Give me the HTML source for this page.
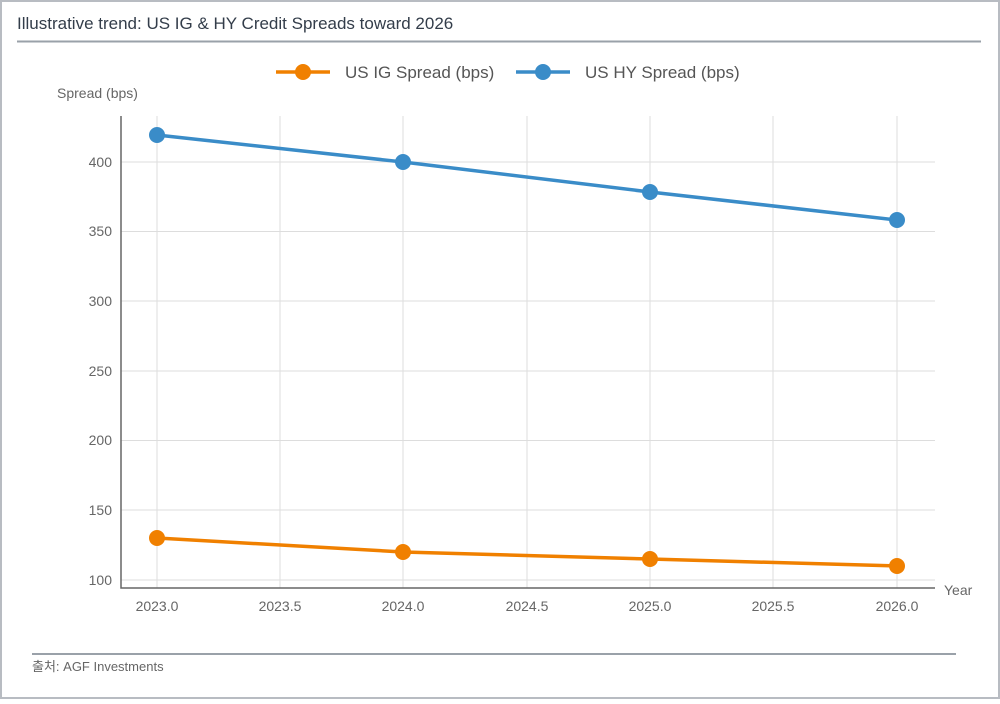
<!DOCTYPE html>
<html><head><meta charset="utf-8"><style>
html,body{margin:0;padding:0;background:#fff;}
body{width:1000px;height:699px;overflow:hidden;}
</style></head><body>
<svg width="1000" height="699" xmlns="http://www.w3.org/2000/svg" font-family="Liberation Sans, 'Noto Sans CJK KR', sans-serif">
<rect x="1" y="1" width="998" height="697" fill="#fff" stroke="#b8bcc2" stroke-width="2"/>
<text x="17" y="29" font-size="17" fill="#333d4a">Illustrative trend: US IG &amp; HY Credit Spreads toward 2026</text>
<line x1="17" y1="41.5" x2="981" y2="41.5" stroke="#9aa1a9" stroke-width="2"/>
<g stroke="#dddddd" stroke-width="1">
<line x1="121" y1="162" x2="935" y2="162"/><line x1="121" y1="231.5" x2="935" y2="231.5"/>
<line x1="121" y1="301" x2="935" y2="301"/><line x1="121" y1="371" x2="935" y2="371"/>
<line x1="121" y1="440.5" x2="935" y2="440.5"/><line x1="121" y1="510" x2="935" y2="510"/>
<line x1="121" y1="580" x2="935" y2="580"/>
<line x1="157" y1="116" x2="157" y2="588"/><line x1="280" y1="116" x2="280" y2="588"/>
<line x1="403" y1="116" x2="403" y2="588"/><line x1="527" y1="116" x2="527" y2="588"/>
<line x1="650" y1="116" x2="650" y2="588"/><line x1="773" y1="116" x2="773" y2="588"/>
<line x1="897" y1="116" x2="897" y2="588"/>
</g>
<path d="M121 116 V588 H935" fill="none" stroke="#666" stroke-width="1.5"/>
<g font-size="14" fill="#666" text-anchor="end">
<text x="112" y="167">400</text><text x="112" y="236">350</text><text x="112" y="306">300</text>
<text x="112" y="376">250</text><text x="112" y="445">200</text><text x="112" y="515">150</text><text x="112" y="585">100</text>
</g>
<g font-size="14" fill="#666" text-anchor="middle">
<text x="157" y="611">2023.0</text><text x="280" y="611">2023.5</text><text x="403" y="611">2024.0</text>
<text x="527" y="611">2024.5</text><text x="650" y="611">2025.0</text><text x="773" y="611">2025.5</text><text x="897" y="611">2026.0</text>
</g>
<text x="57" y="98" font-size="14" fill="#666">Spread (bps)</text>
<text x="944" y="595" font-size="14" fill="#666">Year</text>
<polyline points="157,135 403,162 650,192 897,220" fill="none" stroke="#3a8cc8" stroke-width="3.5"/>
<g fill="#3a8cc8"><circle cx="157" cy="135" r="8"/><circle cx="403" cy="162" r="8"/><circle cx="650" cy="192" r="8"/><circle cx="897" cy="220" r="8"/></g>
<polyline points="157,538 403,552 650,559 897,566" fill="none" stroke="#f08000" stroke-width="3.5"/>
<g fill="#f08000"><circle cx="157" cy="538" r="8"/><circle cx="403" cy="552" r="8"/><circle cx="650" cy="559" r="8"/><circle cx="897" cy="566" r="8"/></g>
<line x1="276" y1="72" x2="330" y2="72" stroke="#f08000" stroke-width="3.5"/><circle cx="303" cy="72" r="8" fill="#f08000"/>
<text x="345" y="78" font-size="17" fill="#555">US IG Spread (bps)</text>
<line x1="516" y1="72" x2="570" y2="72" stroke="#3a8cc8" stroke-width="3.5"/><circle cx="543" cy="72" r="8" fill="#3a8cc8"/>
<text x="585" y="78" font-size="17" fill="#555">US HY Spread (bps)</text>
<line x1="32" y1="654" x2="956" y2="654" stroke="#9aa1a9" stroke-width="2"/>
<text x="32" y="671" font-size="13" fill="#666">출처: AGF Investments</text>
</svg>
</body></html>
